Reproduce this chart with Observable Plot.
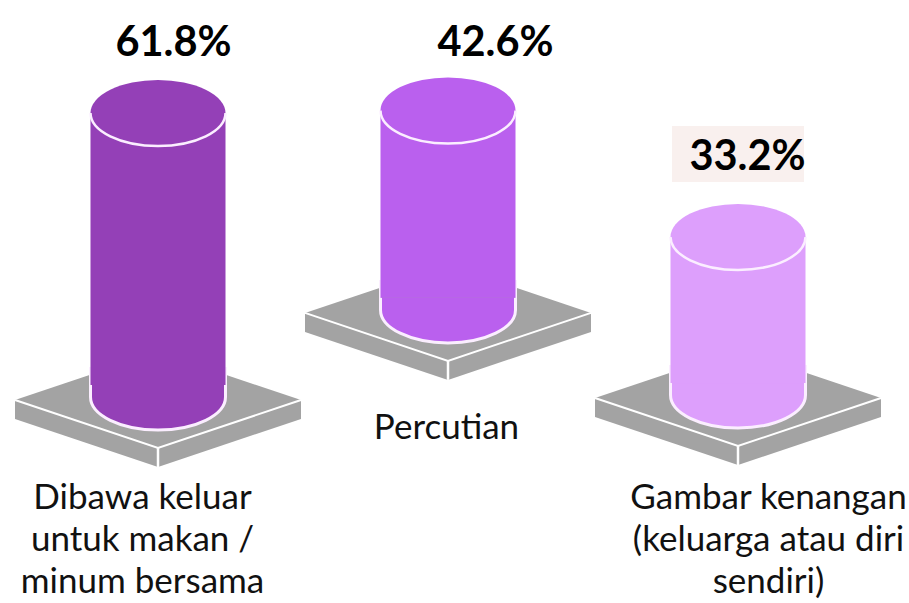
<!DOCTYPE html>
<html>
<head>
<meta charset="utf-8">
<script src="https://cdn.jsdelivr.net/npm/d3@7"></script>
<script src="https://cdn.jsdelivr.net/npm/@observablehq/plot@0.6"></script>
<style>html,body{margin:0;padding:0;background:#fff}svg{display:block;background:#fff}</style>
</head>
<body>
<div id="chart"></div>
<script>
// Data
const categories = ["Dibawa keluar\nuntuk makan /\nminum bersama", "Percutian", "Gambar kenangan\n(keluarga atau diri\nsendiri)"];
const values = [61.8, 42.6, 33.2];
const valueLabels = ["61.8%", "42.6%", "33.2%"];

// Layout and style, kept apart from the data
const fills = ["#9440b7", "#ba60ee", "#dd9ffc"];
const lifts = [0, 19.8, 0.45];           // platform raise, in y units
const valueOffset = [[15, -71], [47, -68], [9, -81]];
const labelOffset = [[-16, 537], [-2, 425], [30, 537]];
const FONT = "Lato, sans-serif";
const RX = 67.5, RY = 33, BASE_DROP = 12;

const rows = categories.map((category, i) => ({
  category, value: values[i], label: valueLabels[i], fill: fills[i],
  floor: lifts[i], top: values[i] + lifts[i], vo: valueOffset[i], lo: labelOffset[i]
}));

const centre = (s, r) => s.x(r.category) + s.x.bandwidth() / 2;

function platforms(index, s) {
  const g = d3.create("svg:g");
  for (const r of rows) {
    const cx = centre(s, r), by = s.y(r.floor) + BASE_DROP;
    const w = 143, h = 48, t = 19, my = by + 3;
    const L = [cx - w, my], B = [cx, my + h], R = [cx + w, my], T = [cx, my - h];
    const pts = a => a.map(p => p.join(",")).join(" ");
    g.append("polygon").attr("points", pts([L, T, R, B])).attr("fill", "#a3a3a3");
    g.append("polygon").attr("points", pts([L, B, [cx, my + h + t], [cx - w, my + t]])).attr("fill", "#a3a3a3");
    g.append("polygon").attr("points", pts([R, B, [cx, my + h + t], [cx + w, my + t]])).attr("fill", "#a3a3a3");
    g.append("polyline").attr("points", pts([L, B, R])).attr("fill", "none").attr("stroke", "#fff").attr("stroke-width", 2);
    g.append("line").attr("x1", cx).attr("x2", cx).attr("y1", my + h).attr("y2", my + h + t).attr("stroke", "#fff").attr("stroke-width", 2.5);
    g.append("path")
      .attr("d", `M${cx - RX},${s.y(r.floor)}V${by}A${RX},${RY} 0 0 0 ${cx + RX},${by}V${s.y(r.floor)}`)
      .attr("fill", r.fill).attr("stroke", "none");
    g.append("path")
      .attr("d", `M${cx - RX},${by - 30}V${by}A${RX},${RY} 0 0 0 ${cx + RX},${by}V${by - 30}`)
      .attr("fill", "none").attr("stroke", "#fbeeff").attr("stroke-width", 3);
  }
  return g.node();
}

function caps(index, s) {
  const g = d3.create("svg:g");
  for (const r of rows) {
    const cx = centre(s, r), cy = s.y(r.top);
    g.append("ellipse").attr("cx", cx).attr("cy", cy).attr("rx", RX).attr("ry", RY).attr("fill", r.fill);
    g.append("path").attr("d", `M${cx - RX},${cy}A${RX},${RY} 0 0 0 ${cx + RX},${cy}`)
      .attr("fill", "none").attr("stroke", "#fbeeff").attr("stroke-width", 2.5);
  }
  const c = rows[2], cx = centre(s, c);
  g.append("rect").attr("x", cx - 66).attr("y", 126).attr("width", 132).attr("height", 56).attr("fill", "#f9f0ee");
  return g.node();
}

const chart = Plot.plot({
  width: 909, height: 603,
  marginTop: 0, marginRight: 0, marginBottom: 0, marginLeft: 0,
  style: {background: "#fff", fontFamily: FONT},
  x: {type: "band", domain: categories, range: [13, 883], padding: 0, axis: null},
  y: {domain: [0, 100], range: [385, -55], axis: null},
  marks: [
    platforms,
    Plot.barY(rows, {x: "category", y1: "floor", y2: "top", fill: "fill", insetLeft: 77.5, insetRight: 77.5}),
    caps,
    ...rows.map(r => Plot.text([r], {
      x: "category", y: "top", text: "label", dx: r.vo[0], dy: r.vo[1],
      fontSize: 41.5, fontWeight: 700, fill: "#000", fontFamily: FONT
    })),
    ...rows.map(r => Plot.text([r], {
      x: "category", frameAnchor: "top", text: "category", dx: r.lo[0], dy: r.lo[1],
      lineAnchor: "middle", lineHeight: 1.2, fontSize: 35, fill: "#111", fontFamily: FONT
    }))
  ]
});
document.getElementById("chart").appendChild(chart);
</script>
</body>
</html>
